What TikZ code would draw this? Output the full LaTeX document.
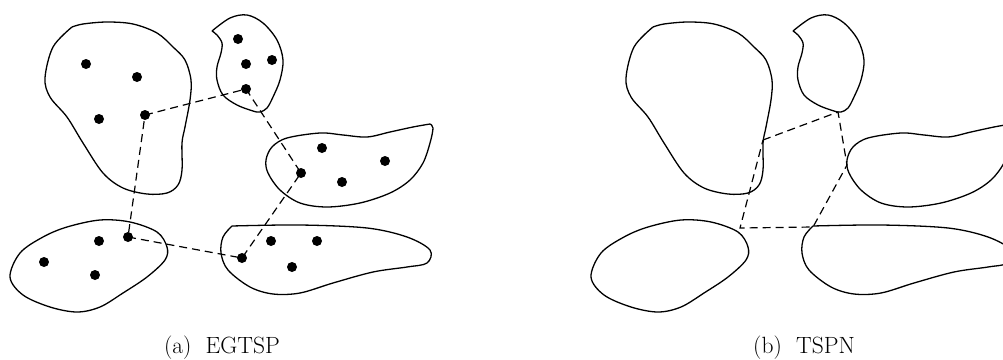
\documentclass[tikz,border=0pt]{standalone}
\usepackage{fontspec}
\begin{document}
\begin{tikzpicture}[x=1pt,y=-1pt,
  blob/.style={line width=1.3pt, line join=round},
  tour/.style={dash pattern=on 8pt off 5pt, line width=1.2pt},
  dot/.style={circle, fill=black, inner sep=0pt, minimum size=10pt},
  caption/.style={font=\fontsize{23.5}{28}\selectfont, anchor=base, inner sep=0pt}]
\useasboundingbox (0,0) rectangle (1003,359);
\clip (0,0) rectangle (1003,359);
% regions, drawn in both panels
\foreach \dx in {0,581}{
\begin{scope}[xshift=\dx pt]
  % region A
  \draw[blob] plot[smooth, tension=0.55] coordinates {(72,27) (83,24) (107,22) (133,24) (157,33) (173,47) (185,60) (191,80) (190,100) (185,127) (182,143) (182,170) (178,185) (167,193) (147,194) (123,188) (103,173) (83,143) (67,117) (50,97) (45,78) (53,47) (72,27)};
  % region B
  \draw[blob] plot[smooth, tension=0.55] coordinates {(212,31) (230,18) (247,15) (263,23) (277,40) (283,60) (280,80) (273,97) (267,108) (260,112) (253,111) (237,105) (223,95) (217,80) (217,67) (221,53) (222,43) (217,35) (212,31)};
  % region C
  \draw[blob] plot[smooth, tension=0.55] coordinates {(430,124) (433,128) (430,143) (423,163) (410,180) (390,193) (360,203) (327,207) (300,203) (280,190) (268,173) (266,160) (272,147) (287,138) (320,133) (343,135) (367,137) (390,132) (413,127) (430,124)};
  % region D
  \draw[blob] plot[smooth cycle, tension=0.55] coordinates {(10,277) (20,253) (43,237) (67,227) (100,220) (130,222) (157,232) (167,247) (165,260) (147,277) (123,293) (100,307) (77,312) (50,307) (23,295)};
  % region E
  \draw[blob] plot[smooth, tension=0.55] coordinates {(232,226) (300,225) (367,228) (407,237) (430,250) (427,263) (407,267) (373,272) (333,283) (300,293) (273,294) (250,287) (228,270) (221,253) (223,237) (232,226)};
\end{scope}
}
% points of the left panel
\node[dot] (a1) at (86,64) {};
\node[dot] (a2) at (137,77) {};
\node[dot] (a3) at (99,119) {};
\node[dot] (a4) at (145,115) {};
\node[dot] (b1) at (238,39) {};
\node[dot] (b2) at (246,64) {};
\node[dot] (b3) at (272,60) {};
\node[dot] (b4) at (246,89) {};
\node[dot] (c1) at (322,148) {};
\node[dot] (c2) at (385,161) {};
\node[dot] (c3) at (342,182) {};
\node[dot] (c4) at (301,173) {};
\node[dot] (d1) at (99,241) {};
\node[dot] (d2) at (128,237) {};
\node[dot] (d3) at (44,262) {};
\node[dot] (d4) at (95,275) {};
\node[dot] (e1) at (271,241) {};
\node[dot] (e2) at (317,241) {};
\node[dot] (e3) at (292,267) {};
\node[dot] (e4) at (242,258) {};
\draw[tour] (a4.center) -- (b4.center) -- (c4.center) -- (e4.center) -- (d2.center) -- (a4.center);
% tour of the right panel
\coordinate (p1) at (763,140);
\coordinate (p2) at (838,112);
\coordinate (p3) at (847,165);
\coordinate (p4) at (813,227);
\coordinate (p5) at (740,228);
\draw[tour] (p1) -- (p2) -- (p3) -- (p4) -- (p5) -- (p1);
% captions
\node[caption] (capa) at (222,353) {(a)~~EGTSP};
\node[caption] (capb) at (804,353) {(b)~~TSPN};
\end{tikzpicture}
\end{document}
